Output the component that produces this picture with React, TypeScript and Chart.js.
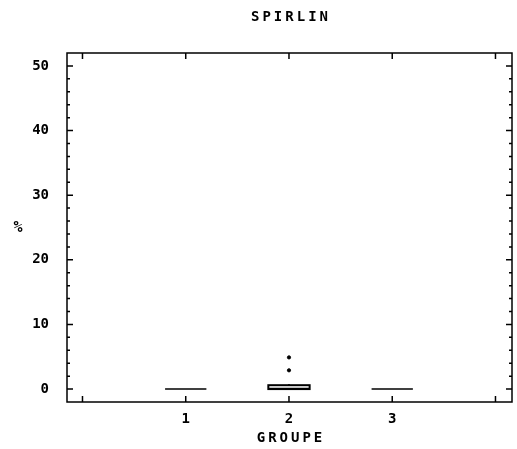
import React, { useEffect, useRef } from "react";
import { Chart, registerables } from "chart.js";

Chart.register(...registerables);

const TITLE = "SPIRLIN";
const X_TITLE = "GROUPE";
const Y_TITLE = "%";

const groups = [1, 2, 3];
const whiskerLow = [0, 0, 0];
const q1 = [0, 0, 0];
const median = [0, 0.1, 0];
const q3 = [0, 0.6, 0];
const whiskerHigh = [0, 0.8, 0];
const outlierGroup = [2, 2];
const outlierValue = [2.9, 4.9];

const xTickLabels = [1, 2, 3];
const xFrameTicks = [0, 1, 2, 3, 4];
const yTickLabels = [0, 10, 20, 30, 40, 50];
const yMinorStep = 2;

const FONT = "'DejaVu Sans Mono', monospace";

const boxPlugin = {
  id: "boxes",
  afterDatasetsDraw(chart: any) {
    const { ctx, scales } = chart;
    const xs = scales.x;
    const ys = scales.y;
    ctx.save();
    ctx.strokeStyle = "#000";
    ctx.lineWidth = 1.5;
    groups.forEach((g, i) => {
      const xc = xs.getPixelForValue(g);
      const hw = xs.getPixelForValue(g + 0.2) - xc;
      const yq1 = ys.getPixelForValue(q1[i]);
      const yq3 = ys.getPixelForValue(q3[i]);
      const ym = ys.getPixelForValue(median[i]);
      const ylo = ys.getPixelForValue(whiskerLow[i]);
      const yhi = ys.getPixelForValue(whiskerHigh[i]);
      ctx.beginPath();
      ctx.moveTo(xc, yq3);
      ctx.lineTo(xc, yhi);
      ctx.moveTo(xc, yq1);
      ctx.lineTo(xc, ylo);
      ctx.stroke();
      if (Math.abs(yq1 - yq3) < 1) {
        ctx.beginPath();
        ctx.moveTo(xc - hw, yq1);
        ctx.lineTo(xc + hw, yq1);
        ctx.stroke();
      } else {
        ctx.lineWidth = 2;
        ctx.strokeRect(xc - hw, yq3, hw * 2, yq1 - yq3);
        ctx.lineWidth = 1.5;
        ctx.beginPath();
        ctx.moveTo(xc - hw, ym);
        ctx.lineTo(xc + hw, ym);
        ctx.stroke();
      }
    });
    ctx.restore();
  },
};

const framePlugin = {
  id: "frame",
  afterDraw(chart: any) {
    const { ctx, chartArea, scales } = chart;
    const xs = scales.x;
    const ys = scales.y;
    const { left, right, top, bottom } = chartArea;
    ctx.save();
    ctx.strokeStyle = "#000";
    ctx.lineWidth = 1.5;
    ctx.strokeRect(left, top, right - left, bottom - top);
    ctx.beginPath();
    xFrameTicks.forEach((v) => {
      const x = xs.getPixelForValue(v);
      ctx.moveTo(x, bottom);
      ctx.lineTo(x, bottom - 6);
      ctx.moveTo(x, top);
      ctx.lineTo(x, top + 6);
    });
    for (let v = 0; v <= 50; v += yMinorStep) {
      const y = ys.getPixelForValue(v);
      const len = v % 10 === 0 ? 6 : 3;
      ctx.moveTo(left, y);
      ctx.lineTo(left + len, y);
      ctx.moveTo(right, y);
      ctx.lineTo(right - len, y);
    }
    ctx.stroke();

    ctx.fillStyle = "#000";
    ctx.font = `bold 14px ${FONT}`;
    ctx.textBaseline = "middle";
    ctx.textAlign = "center";
    const sp = 3;
    (ctx as any).letterSpacing = `${sp}px`;
    const cx = (left + right) / 2;
    ctx.fillText(TITLE, cx + sp / 2, 17);
    ctx.fillText(X_TITLE, cx + sp / 2, 438);
    (ctx as any).letterSpacing = "0px";
    ctx.font = `bold 15px ${FONT}`;
    ctx.fillText(Y_TITLE, 18, 228);
    ctx.restore();
  },
};

export default function App() {
  const ref = useRef<HTMLCanvasElement>(null);
  useEffect(() => {
    if (!ref.current) return;
    const chart = new Chart(ref.current, {
      type: "scatter",
      data: {
        datasets: [
          {
            data: outlierGroup.map((g, i) => ({ x: g, y: outlierValue[i] })),
            backgroundColor: "#000",
            borderColor: "#000",
            pointRadius: 1.6,
            pointStyle: "circle",
          },
        ],
      },
      options: {
        animation: false,
        responsive: true,
        maintainAspectRatio: false,
        layout: { padding: { top: 53, right: 5, left: 0, bottom: 0 } },
        plugins: { legend: { display: false }, tooltip: { enabled: false }, title: { display: false } },
        scales: {
          x: {
            type: "linear",
            min: -0.15,
            max: 4.16,
            afterBuildTicks: (s: any) => {
              s.ticks = xTickLabels.map((v) => ({ value: v }));
            },
            afterFit: (s: any) => {
              s.height = 47;
            },
            grid: { display: false },
            border: { display: false },
            ticks: {
              color: "#000",
              padding: 1,
              font: { family: FONT, size: 14, weight: "bold" },
              maxRotation: 0,
            },
          },
          y: {
            type: "linear",
            min: -2,
            max: 52,
            afterBuildTicks: (s: any) => {
              s.ticks = yTickLabels.map((v) => ({ value: v }));
            },
            afterFit: (s: any) => {
              s.width = 67;
            },
            grid: { display: false },
            border: { display: false },
            ticks: {
              color: "#000",
              padding: 10,
              font: { family: FONT, size: 14, weight: "bold" },
            },
          },
        },
      },
      plugins: [boxPlugin, framePlugin],
    } as any);
    return () => chart.destroy();
  }, []);
  return (
    <div style={{ position: "fixed", left: 0, top: 0, width: 517, height: 449, background: "#fff" }}>
      <canvas ref={ref} />
    </div>
  );
}
